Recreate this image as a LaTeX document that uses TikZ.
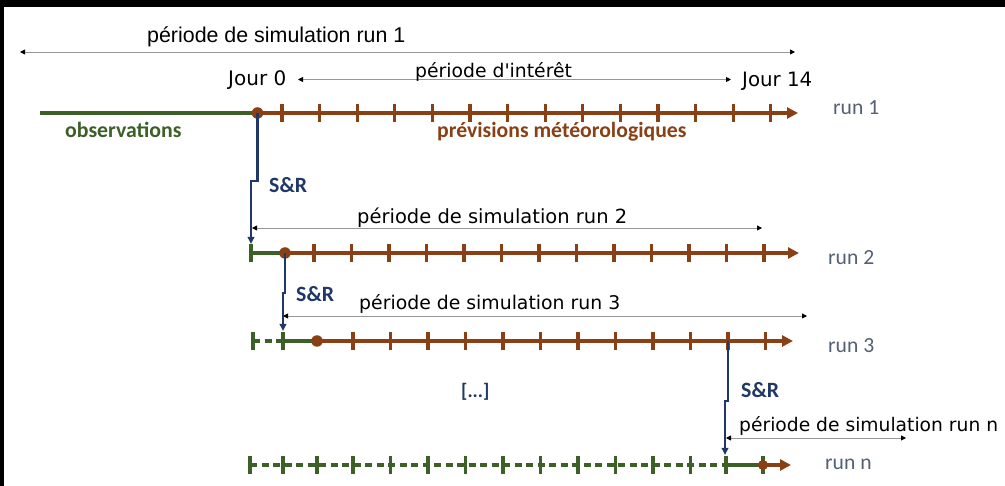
\documentclass[tikz,border=0pt]{standalone}
\usepackage{fontspec}
\setmainfont{Carlito}
\newfontfamily\dejavu{DejaVu Sans}
\newfontfamily\libsans{Liberation Sans}
\usetikzlibrary{arrows.meta}

\definecolor{obsgreen}{RGB}{60,96,40}
\definecolor{fcbrown}{RGB}{137,64,20}
\definecolor{srblue}{RGB}{32,56,104}
\definecolor{runlabel}{RGB}{84,96,116}
\definecolor{spangray}{RGB}{150,150,150}

\begin{document}
\begin{tikzpicture}[x=1pt,y=-1pt,
  lbl/.style={inner sep=0pt,anchor=base west},
  span/.style={draw=spangray,line width=0.9pt,
    {Triangle[length=5pt,width=5pt,color=black]}-{Triangle[length=5pt,width=5pt,color=black]}},
  obsline/.style={draw=obsgreen,line width=3.8pt},
  obsdash/.style={draw=obsgreen,line width=3.8pt,dash pattern=on 7pt off 4.5pt},
  fcline/.style={draw=fcbrown,line width=3.8pt,-{Triangle[length=11pt,width=11pt]}},
  obstick/.style={draw=obsgreen,line width=3.4pt},
  fctick/.style={draw=fcbrown,line width=3.2pt},
  daydot/.style={circle,fill=fcbrown,inner sep=0pt,minimum size=11.5pt},
  srline/.style={draw=srblue,line width=2.2pt,-{Triangle[length=7pt,width=6.5pt]}},
  srtext/.style={lbl,font=\bfseries\fontsize{21.8}{24}\selectfont,text=srblue},
  runtext/.style={lbl,font=\fontsize{21.6}{24}\selectfont,text=runlabel},
  spantext/.style={lbl,font=\dejavu\fontsize{19}{22}\selectfont},
]
% frame
\fill[black] (0,0) rectangle (1005,486);
\fill[white] (4,7.5) rectangle (1005,486);
\useasboundingbox (0,0) rectangle (1005,486);

% ---------- periods ----------
\coordinate (p1l) at (20,52);   \coordinate (p1r) at (795,52);
\coordinate (jl)  at (298,79.5); \coordinate (jr)  at (731,79.5);
\coordinate (p2l) at (252,228);  \coordinate (p2r) at (762,228);
\coordinate (p3l) at (283,316);  \coordinate (p3r) at (807,316);
\coordinate (pnl) at (726,438);  \coordinate (pnr) at (906,438);
\draw[span] (p1l) -- (p1r);
\draw[span] (jl) -- (jr);
\draw[span] (p2l) -- (p2r);
\draw[span] (p3l) -- (p3r);
\draw[span] (pnl) -- (pnr);

\node[lbl,font=\libsans\fontsize{21.4}{24}\selectfont] (t1) at (147,43) {période de simulation run 1};
\node[spantext,font=\dejavu\fontsize{20}{22}\selectfont] (j0t) at (228,85.5) {Jour 0};
\node[spantext,font=\dejavu\fontsize{19.8}{22}\selectfont] (j14t) at (742,86.5) {Jour 14};
\node[spantext,font=\dejavu\fontsize{18.8}{22}\selectfont] (pit) at (415,78) {période d'intérêt};
\node[spantext,font=\dejavu\fontsize{19.5}{22}\selectfont] (t2) at (357,224) {période de simulation run 2};
\node[spantext,font=\dejavu\fontsize{18.85}{22}\selectfont] (t3) at (359,310) {période de simulation run 3};
\node[spantext,font=\dejavu\fontsize{18.7}{22}\selectfont] (tn) at (739,432) {période de simulation run n};

% ---------- run 1 ----------
\coordinate (r1s) at (40,113);
\coordinate (d1) at (257.5,113);
\coordinate (r1e) at (798,113);
\draw[obsline] (r1s) -- (d1);
\draw[fcline] (d1) -- (r1e);
\foreach \k in {0,...,13} \draw[fctick] ({282+37.6*\k},104) -- ({282+37.6*\k},122);
\node[daydot] (dot1) at (d1) {};
\node[lbl,font=\bfseries\fontsize{21.8}{24}\selectfont,text=obsgreen] (obs) at (65,138) {observations};
\node[lbl,font=\bfseries\fontsize{21.7}{24}\selectfont,text=fcbrown] (prev) at (437,138) {prévisions météorologiques};
\node[runtext] (run1) at (833,115) {run 1};

% ---------- run 2 ----------
\coordinate (r2s) at (251,253);
\coordinate (d2) at (285,253);
\coordinate (r2e) at (799,253);
\draw[obstick] (251,244) -- (251,262);
\draw[obsline] (r2s) -- (d2);
\draw[fcline] (d2) -- (r2e);
\foreach \k in {0,...,12} \draw[fctick] ({314+37.5*\k},244) -- ({314+37.5*\k},262);
\node[daydot] (dot2) at (d2) {};
\node[runtext] (run2) at (828,265) {run 2};

% ---------- run 3 ----------
\coordinate (r3s) at (253,341);
\coordinate (r3k) at (283,341);
\coordinate (d3) at (317,341);
\coordinate (r3e) at (793,341);
\coordinate (b3) at (728,341);
\draw[obsdash] (r3s) -- (r3k);
\draw[obsline] (r3k) -- (d3);
\foreach \x in {253,283} \draw[obstick] (\x,332) -- (\x,350);
\draw[fcline] (d3) -- (r3e);
\foreach \k in {0,...,11} \draw[fctick] ({353+37.5*\k},332) -- ({353+37.5*\k},350);
\node[daydot] (dot3) at (d3) {};
\node[runtext] (run3) at (828,353) {run 3};

% ---------- run n ----------
\coordinate (rns) at (250,465);
\coordinate (rnk) at (726,465);
\coordinate (dn) at (763,465);
\coordinate (rne) at (791,465);
\draw[obsdash] (rns) -- (rnk);
\draw[obsline] (rnk) -- (dn);
\foreach \x in {250,283,317,353,390.5,428,465.5,503,540.5,578,615.5,653,690.5,726,763}
  \draw[obstick] (\x,456) -- (\x,474);
\draw[fcline] (dn) -- (rne);
\node[daydot,minimum size=10pt] (dotn) at (dn) {};
\node[runtext] (runn) at (825,470) {run n};

% ---------- restart connectors ----------
\coordinate (k1) at (257.5,181);
\coordinate (e1) at (251,244);
\draw[srline] (dot1.center) -- (k1) -| (e1);
\node[srtext] (sr1) at (269,193) {S\&R};

\coordinate (k2) at (285,293);
\coordinate (e2) at (283,331);
\draw[srline] (dot2.center) -- (k2) -| (e2);
\node[srtext] (sr2) at (296,302) {S\&R};

\coordinate (k3) at (728,401);
\coordinate (e3) at (725,455);
\draw[srline] (b3) -- (k3) -| (e3);
\node[srtext] (sr3) at (741,398) {S\&R};

\node[lbl,font=\bfseries\fontsize{19.5}{22}\selectfont,text=srblue] (etc) at (461,398) {[...]};
\end{tikzpicture}
\end{document}
